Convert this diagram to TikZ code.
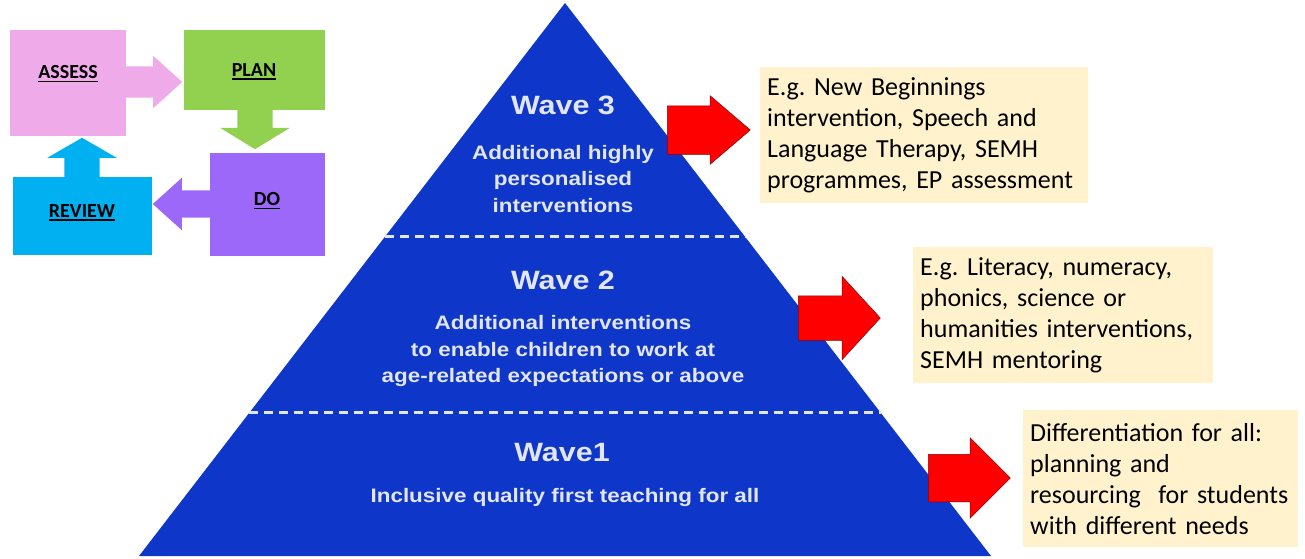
\documentclass[tikz,border=0pt]{standalone}
\usepackage{fontspec}
\setmainfont{Carlito}
\newfontfamily\pyrfont[FakeStretch=1.15]{Liberation Sans}
\usetikzlibrary{shapes.arrows}
\usetikzlibrary{calc}

\definecolor{pyrblue}{RGB}{14,54,200}
\definecolor{pyrtext}{RGB}{226,230,242}
\definecolor{notefill}{RGB}{255,242,204}
\definecolor{assesspink}{RGB}{239,170,233}
\definecolor{plangreen}{RGB}{146,208,80}
\definecolor{dopurple}{RGB}{156,104,250}
\definecolor{reviewblue}{RGB}{0,176,240}

\newcommand{\notefont}{\fontsize{26}{31}\selectfont\frenchspacing\hyphenpenalty=10000\relax}
\newcommand{\ulabel}[1]{\setbox0\hbox{#1}\rlap{\rule[-3.5pt]{\wd0}{1.8pt}}\box0}

\tikzset{
  stage/.style={fill=#1, inner sep=0pt},
  stagelabel/.style={font=\fontsize{20}{24}\selectfont\bfseries},
  blockarrow/.style={single arrow, inner xsep=0pt, inner ysep=#1, single arrow head indent=0pt, anchor=tail},
  redarrow/.style={blockarrow=#1, fill=red, draw=red!55!black, line width=0.5pt},
  note/.style={fill=notefill, anchor=north west, align=left, inner xsep=7pt, inner ysep=0pt, font=\notefont},
  wavetitle/.style={text=pyrtext, font=\pyrfont\bfseries\fontsize{26.5}{30}\selectfont},
  wavetext/.style={text=pyrtext, align=center, font=\pyrfont\bfseries\fontsize{19.5}{26.5}\selectfont},
  divider/.style={draw=pyrtext, line width=3pt, dash pattern=on 9pt off 6pt},
}

\begin{document}
\begin{tikzpicture}[x=1pt, y=-1pt]
                \useasboundingbox (0,0) rectangle (1305,558);
                \coordinate (apex) at (565,3);
                \coordinate (baseL) at (139,556);
                \coordinate (baseR) at (991,556);
                \fill[pyrblue] (apex) -- (baseR) -- (baseL) -- cycle;
                \draw[divider] ($(apex)!0.423!(baseL)$) -- ($(apex)!0.423!(baseR)$);
                \draw[divider] ($(apex)!0.741!(baseL)$) -- ($(apex)!0.741!(baseR)$);
                \node[wavetitle] (w3) at (563,105) {Wave 3};
                \node[wavetext] (w3text) at (563,179) {Additional highly\\personalised\\interventions};
                \node[wavetitle] (w2) at (563,280) {Wave 2};
                \node[wavetext] (w2text) at (563,351) {Additional interventions\\to enable children to work at\\age-related expectations or above};
                \node[wavetitle] (w1) at (562,453) {Wave1};
                \node[wavetext] (w1text) at (565,497) {Inclusive quality first teaching for all};
                \node[redarrow=24, minimum height=83, single arrow head extend=10, single arrow tip angle=81] (arr3) at (667,130) {};
                \node[redarrow=22, minimum height=82, single arrow head extend=19.5, single arrow tip angle=95] (arr2) at (798,318) {};
                \node[redarrow=23.5, minimum height=82, single arrow head extend=16.5, single arrow tip angle=90] (arr1) at (928,478) {};
                \node[note, text width=314, minimum height=136] (note3) at (760,67) {E.g. New Beginnings\\intervention, Speech and\\Language Therapy, SEMH\\programmes, EP assessment};
                \node[note, text width=286, minimum height=136] (note2) at (913,247) {E.g. Literacy, numeracy,\\phonics, science or\\humanities interventions,\\SEMH mentoring};
                \node[note, text width=261, minimum height=137] (note1) at (1023,410) {Differentiation for all:\\planning and\\resourcing~ for students\\with different needs};
                \node[stage=assesspink, minimum width=116, minimum height=106] (assess) at (68,83) {};
                \node[stage=plangreen, minimum width=141, minimum height=80] (plan) at (254,70) {};
                \node[stage=dopurple, minimum width=115, minimum height=103] (do) at (267,204) {};
                \node[stage=reviewblue, minimum width=139, minimum height=78] (review) at (82,216) {};
                \node[blockarrow=15.5, fill=assesspink, minimum height=57, single arrow head extend=10.5, single arrow tip angle=84] (toplan) at (125,82) {};
                \node[blockarrow=17.5, fill=plangreen, minimum height=40, single arrow head extend=17, single arrow tip angle=117, rotate=-90] (todo) at (255,109) {};
                \node[blockarrow=13.5, fill=dopurple, minimum height=58, single arrow head extend=12.5, single arrow tip angle=84, rotate=180] (toreview) at (211,204) {};
                \node[blockarrow=17.5, fill=reviewblue, minimum height=40, single arrow head extend=17, single arrow tip angle=120, rotate=90] (toassess) at (82,178) {};
                \node[stagelabel] (assesslabel) at (68,74) {\ulabel{ASSESS}};
                \node[stagelabel] (planlabel) at (254,72) {\ulabel{PLAN}};
                \node[stagelabel] (dolabel) at (267,201) {\ulabel{DO}};
                \node[stagelabel] (reviewlabel) at (82,213) {\ulabel{REVIEW}};
            \end{tikzpicture}
\end{document}
